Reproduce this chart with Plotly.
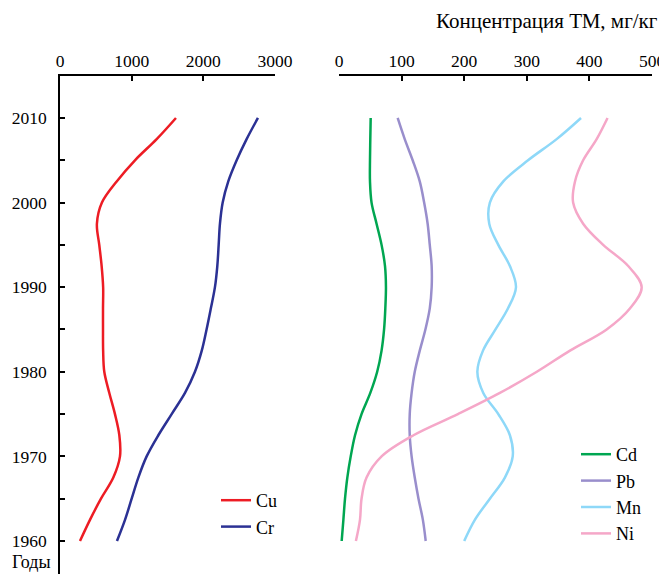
import plotly.graph_objects as go

years = [1960, 1962.5, 1965, 1967.5, 1970, 1972.5, 1975, 1977.5, 1980, 1982.5,
         1985, 1987.5, 1990, 1992.5, 1995, 1997.5, 2000, 2002.5, 2005, 2007.5, 2010]

cu = [279, 418, 572, 744, 837, 828, 767, 688, 618, 602, 600, 600, 602, 581, 548, 515, 585, 791, 1046, 1349, 1618]
cr = [795, 907, 1000, 1093, 1209, 1372, 1558, 1744, 1883, 1978, 2045, 2105, 2162, 2195, 2214, 2232, 2270, 2348, 2465, 2604, 2762]

cd = [4.3, 7, 9.6, 13.3, 18.7, 25.6, 36, 50, 61, 68, 72, 74, 75, 73.5, 68, 60, 52, 49.5, 49.5, 50, 50.6]
pb = [138.5, 134, 127, 121, 116, 113, 113, 116, 121, 129, 138, 145, 148, 148, 145, 141.6, 136, 129, 117.7, 105, 93.7]
mn = [200, 217, 241, 265, 277.5, 273, 254.5, 230.5, 221, 230, 250, 270, 282.7, 273, 254.5, 240, 241, 262.5, 302, 347.7, 386.6]
ni = [27, 33.5, 36, 44, 68, 119, 190, 257, 316, 369, 427.6, 465, 483.5, 462, 422, 390, 374, 377, 390, 411.6, 429]

left_series = [("Cu", cu, "#ED1C24"), ("Cr", cr, "#2B3194")]
right_series = [("Cd", cd, "#00A651"), ("Pb", pb, "#998ECC"), ("Mn", mn, "#8ED8F8"), ("Ni", ni, "#F5A7C8")]

# page body has an 8px margin: work in figure coordinates = window - 8
OFF = 8
W, H = 667 - OFF, 574 - OFF
TOP = 76 - OFF
PH = H - TOP
FONT = "Liberation Serif, Times New Roman, DejaVu Serif, serif"

def fx(px):
    return (px - OFF) / W

def fy(py):
    return (H - (py - OFF)) / PH

fig = go.Figure()
for name, vals, col in left_series:
    fig.add_trace(go.Scatter(x=vals, y=years, mode="lines", name=name,
                             line=dict(color=col, width=2.5, shape="spline", smoothing=1.0),
                             xaxis="x", yaxis="y", legend="legend"))
for name, vals, col in right_series:
    fig.add_trace(go.Scatter(x=vals, y=years, mode="lines", name=name,
                             line=dict(color=col, width=2.5, shape="spline", smoothing=1.0),
                             xaxis="x2", yaxis="y", legend="legend2"))

axis_common = dict(showline=True, linecolor="black", linewidth=1.5, ticks="inside",
                   ticklen=5, tickwidth=1.5, tickcolor="black", showgrid=False,
                   zeroline=False, side="top", anchor="y",
                   tickfont=dict(family=FONT, size=17.5, color="black"))

fig.update_layout(
    width=W, height=H,
    margin=dict(l=0, r=0, t=TOP, b=0, autoexpand=False),
    paper_bgcolor="white", plot_bgcolor="white",
    font=dict(family=FONT, size=18, color="black"),
    xaxis=dict(domain=[fx(60), fx(275)], range=[0, 3000], tickvals=[0, 1000, 2000, 3000], **axis_common),
    xaxis2=dict(domain=[fx(339), fx(652)], range=[0, 500], tickvals=[0, 100, 200, 300, 400, 500], **axis_common),
    yaxis=dict(range=[1956.1, 2014.96], tickvals=[1960, 1970, 1980, 1990, 2000, 2010],
               showline=True, linecolor="black", linewidth=1.5, ticks="inside", ticklen=5,
               tickwidth=1.5, tickcolor="black", showgrid=False, zeroline=False, anchor="x",
               ticklabelstandoff=8,
               minor=dict(tickvals=[1965, 1975, 1985, 1995, 2005], ticks="inside", ticklen=5,
                          tickwidth=1.5, tickcolor="black"),
               tickfont=dict(family=FONT, size=17.5, color="black")),
    legend=dict(x=fx(216), y=fy(482), xanchor="left", yanchor="top",
                bgcolor="rgba(0,0,0,0)", tracegroupgap=0, itemwidth=30,
                font=dict(family=FONT, size=18, color="black")),
    legend2=dict(x=fx(576), y=fy(436), xanchor="left", yanchor="top",
                 bgcolor="rgba(0,0,0,0)", tracegroupgap=0, itemwidth=30,
                 font=dict(family=FONT, size=18, color="black")),
    annotations=[
        dict(text="Концентрация ТМ, мг/кг", xref="paper", yref="paper", x=fx(660), y=fy(21),
             xanchor="right", yanchor="middle", showarrow=False,
             font=dict(family=FONT, size=21, color="black")),
        dict(text="Годы", xref="paper", yref="paper", x=fx(53), y=fy(574),
             xanchor="right", yanchor="bottom", showarrow=False,
             font=dict(family=FONT, size=18, color="black")),
    ],
    showlegend=True,
)

fig.write_html("out.html")
